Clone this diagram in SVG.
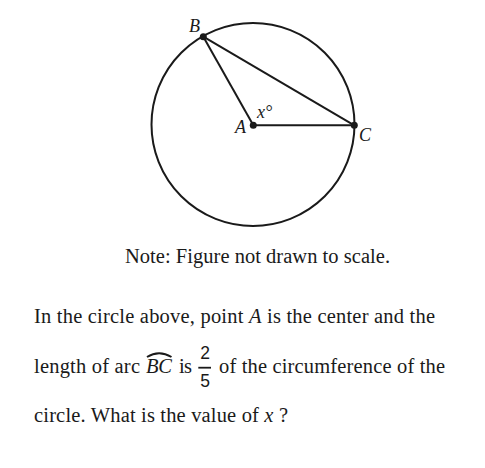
<svg xmlns="http://www.w3.org/2000/svg" width="485" height="468" viewBox="0 0 485 468">
<style>
.ln{stroke:#1a1a1a;stroke-width:2;fill:none}
.dot{fill:#1a1a1a}
.t{font-family:"Liberation Serif","Times New Roman",serif;fill:#1a1a1a}
.lbl{font-size:18px;font-style:italic}
.body{font-size:20.5px}
.num{font-family:"Liberation Sans",Arial,sans-serif;font-size:17.5px;fill:#1a1a1a}
</style>
<rect width="485" height="468" fill="#fff"/>
<g id="circle"><circle class="ln" cx="253" cy="124.5" r="101.5"/></g>
<g id="connectors">
<line class="ln" x1="253.3" y1="125.3" x2="354.3" y2="125.3"/>
<line class="ln" x1="253.3" y1="125.3" x2="203.3" y2="36.7"/>
<line class="ln" x1="203.3" y1="36.7" x2="354.3" y2="125.3"/>
</g>
<g id="nodeA"><circle class="dot" cx="253.3" cy="125.3" r="3.5"/><text class="t lbl" x="235" y="133">A</text></g>
<g id="nodeB"><circle class="dot" cx="203.3" cy="36.7" r="3.5"/><text class="t lbl" x="189" y="32">B</text></g>
<g id="nodeC"><circle class="dot" cx="354.3" cy="125.3" r="3.5"/><text class="t lbl" x="359" y="141">C</text></g>
<g id="angle"><text class="t lbl" x="257" y="118">x°</text></g>
<text class="t body" x="125" y="263" textLength="265">Note: Figure not drawn to scale.</text>
<text class="t body" x="34" y="323" textLength="401">In the circle above, point <tspan font-style="italic">A</tspan> is the center and the</text>
<text class="t body" x="34" y="372.5" textLength="106">length of arc</text>
<text class="t body" x="146" y="372.5" font-style="italic" textLength="26">BC</text>
<text class="t body" x="179" y="372.5" textLength="13">is</text>
<text class="t body" x="219" y="372.5" textLength="226">of the circumference of the</text>
<text class="t body" x="34" y="421.5" textLength="254">circle. What is the value of <tspan font-style="italic">x</tspan> ?</text>
<g id="fraction">
<text class="num" x="205" y="359.3" text-anchor="middle">2</text>
<line x1="198.3" y1="367.7" x2="211" y2="367.7" stroke="#1a1a1a" stroke-width="1.8"/>
<text class="num" x="205" y="386.7" text-anchor="middle">5</text>
</g>
<path class="ln" stroke-width="1.1" d="M147 357 Q159 349.5 171.5 357"/>
</svg>
